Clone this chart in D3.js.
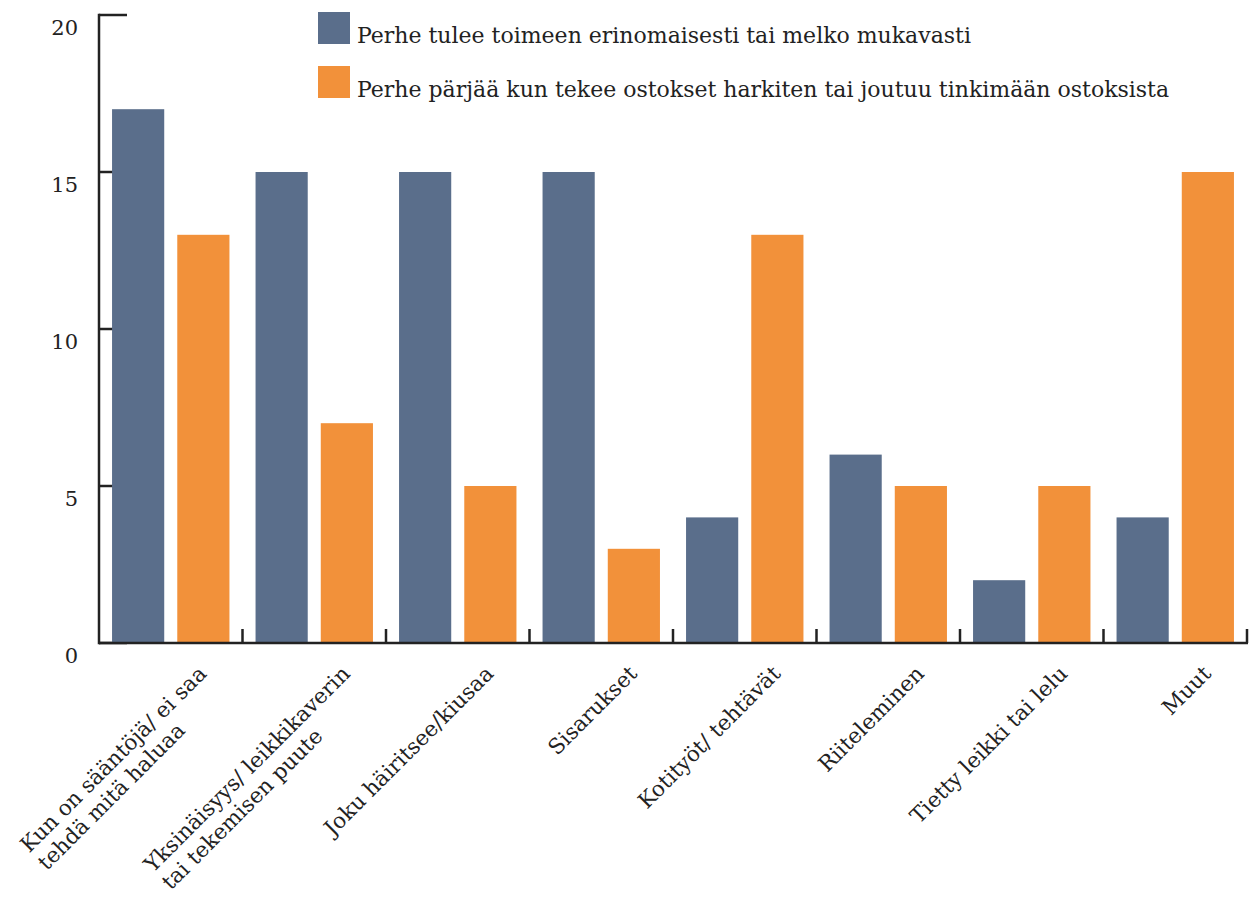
<!DOCTYPE html>
<html>
<head>
<meta charset="utf-8">
<script src="https://cdn.jsdelivr.net/npm/d3@7"></script>
<style>
  body { margin: 0; background: #fff; }
  text { font-family: "DejaVu Serif", serif; fill: #222; }
</style>
</head>
<body>
<div id="chart"></div>
<script>
// data
const categories = [
  ["Kun on sääntöjä/ ei saa", "tehdä mitä haluaa"],
  ["Yksinäisyys/ leikkikaverin", "tai tekemisen puute"],
  ["Joku häiritsee/kiusaa"],
  ["Sisarukset"],
  ["Kotityöt/ tehtävät"],
  ["Riiteleminen"],
  ["Tietty leikki tai lelu"],
  ["Muut"]
];
const seriesNames = [
  "Perhe tulee toimeen erinomaisesti tai melko mukavasti",
  "Perhe pärjää kun tekee ostokset harkiten tai joutuu tinkimään ostoksista"
];
const comfortable = [17, 15, 15, 15, 4, 6, 2, 4];
const tight = [13, 7, 5, 3, 13, 5, 5, 15];
const yTicks = [0, 5, 10, 15, 20];
const colors = ["#5a6e8b", "#f2913a"];

const width = 1251, height = 899;
const svg = d3.select("#chart").append("svg")
  .attr("width", width)
  .attr("height", height);

const x = d3.scaleBand()
  .domain(d3.range(categories.length))
  .range([99, 1247]);

const xs = d3.scaleBand()
  .domain([0, 1])
  .range([0, x.bandwidth()])
  .paddingInner(0.2)
  .paddingOuter(0.2);

const y = d3.scaleLinear()
  .domain([0, 20])
  .range([643, 15]);

// y ticks (inward), drawn before bars
svg.append("g").selectAll("line")
  .data(yTicks)
  .join("line")
  .attr("x1", 99).attr("x2", 127)
  .attr("y1", d => y(d)).attr("y2", d => y(d))
  .attr("stroke", "#222").attr("stroke-width", 2.5);

// bars
const groups = [comfortable, tight];
const bars = svg.append("g");
categories.forEach((c, i) => {
  groups.forEach((vals, s) => {
    bars.append("rect")
      .attr("x", x(i) + xs(s))
      .attr("y", y(vals[i]))
      .attr("width", xs.bandwidth())
      .attr("height", y(0) - y(vals[i]))
      .attr("fill", colors[s]);
  });
});

// axes lines
svg.append("line")
  .attr("x1", 99).attr("x2", 99)
  .attr("y1", y(20) - 1.25).attr("y2", y(0) + 1.25)
  .attr("stroke", "#222").attr("stroke-width", 2.5);
svg.append("line")
  .attr("x1", 99).attr("x2", 1248)
  .attr("y1", y(0)).attr("y2", y(0))
  .attr("stroke", "#222").attr("stroke-width", 2.5);

// x ticks at band boundaries
svg.append("g").selectAll("line")
  .data(d3.range(1, categories.length + 1))
  .join("line")
  .attr("x1", d => x.range()[0] + d * x.step())
  .attr("x2", d => x.range()[0] + d * x.step())
  .attr("y1", y(0)).attr("y2", y(0) - 14)
  .attr("stroke", "#222").attr("stroke-width", 2.5);

// y tick labels
svg.append("g").selectAll("text")
  .data(yTicks)
  .join("text")
  .attr("x", 78)
  .attr("y", d => y(d) + 20)
  .attr("text-anchor", "end")
  .style("font-size", "21px")
  .text(d => d);

// x labels, rotated -45, lines left aligned, block ends at anchor
categories.forEach((lines, i) => {
  const cx = x(i) + x.bandwidth() / 2 + 37;
  const g = svg.append("g")
    .attr("transform", `translate(${cx},675) rotate(-45)`);
  const t = g.append("text").style("font-size", "21.5px");
  const spans = lines.map((l, k) => t.append("tspan").attr("y", k * 25).text(l));
  const maxW = d3.max(spans, s => s.node().getComputedTextLength());
  spans.forEach(s => s.attr("x", -maxW));
});

// legend
seriesNames.forEach((name, s) => {
  svg.append("rect")
    .attr("x", 318).attr("y", 12 + s * 54)
    .attr("width", 32).attr("height", 32)
    .attr("fill", colors[s]);
  svg.append("text")
    .attr("x", 357).attr("y", 43 + s * 54)
    .style("font-size", "22px")
    .text(name);
});
</script>
</body>
</html>
